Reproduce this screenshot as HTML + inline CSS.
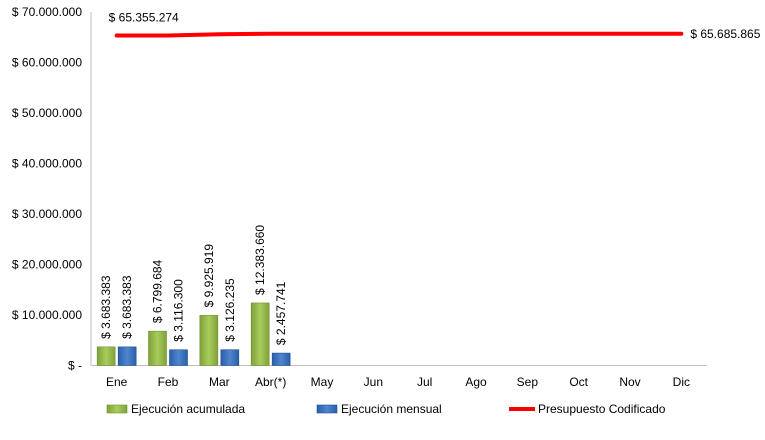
<!DOCTYPE html>
<html><head><meta charset="utf-8"><style>
body{margin:0;background:#fff;}
svg text{font-family:"Liberation Sans",sans-serif;font-size:12px;fill:#000;}
</style></head><body>
<svg width="765" height="435">
<defs>
<linearGradient id="gG" x1="0" x2="1"><stop offset="0" stop-color="#7fa23a"/><stop offset="0.5" stop-color="#a9cc5c"/><stop offset="1" stop-color="#7fa23a"/></linearGradient>
<linearGradient id="gB" x1="0" x2="1"><stop offset="0" stop-color="#2a5fa8"/><stop offset="0.5" stop-color="#4f86d0"/><stop offset="1" stop-color="#2a5fa8"/></linearGradient>
</defs>
<g id="axes"></g><g id="marks"></g><g id="legend"></g>
</svg>
<script>
const categories=["Ene","Feb","Mar","Abr(*)","May","Jun","Jul","Ago","Sep","Oct","Nov","Dic"];
const acumulada=[3683383,6799684,9925919,12383660];
const mensual=[3683383,3116300,3126235,2457741];
const presupuesto=[65355274,65355274,65600000,65685865,65685865,65685865,65685865,65685865,65685865,65685865,65685865,65685865];
const yTicks=[0,10000000,20000000,30000000,40000000,50000000,60000000,70000000];
const yTickLabels=["$ -","$ 10.000.000","$ 20.000.000","$ 30.000.000","$ 40.000.000","$ 50.000.000","$ 60.000.000","$ 70.000.000"];
const acuLabels=["$ 3.683.383","$ 6.799.684","$ 9.925.919","$ 12.383.660"];
const menLabels=["$ 3.683.383","$ 3.116.300","$ 3.126.235","$ 2.457.741"];
const firstLineLabel="$ 65.355.274", lastLineLabel="$ 65.685.865";

const NS="http://www.w3.org/2000/svg";
const x0=91,x1=707,yZero=365.5,yTop=12,yMax=70000000;
const band=(x1-x0)/categories.length;
const y=v=>yZero-(v/yMax)*(yZero-yTop);
const xc=i=>x0+band*(i+0.5);
function mk(t,a,p,txt){const e=document.createElementNS(NS,t);for(const k in a)e.setAttribute(k,a[k]);if(txt!==undefined)e.textContent=txt;p.appendChild(e);return e;}
const ax=document.getElementById('axes'),mg=document.getElementById('marks'),lg=document.getElementById('legend');
let e=mk('line',{x1:x0,y1:yTop,x2:x0,y2:yZero,stroke:'#bfbfbf'},ax);


e=mk('line',{x1:x0,y1:yZero,x2:x1,y2:yZero,stroke:'#bfbfbf'},ax);


yTicks.forEach((v,i)=>{
 const t=mk('text',{x:x0-9,y:y(v)+4,'text-anchor':'end'},ax,yTickLabels[i]);
 
 
});
categories.forEach((c,i)=>{
 const t=mk('text',{x:xc(i),y:386,'text-anchor':'middle'},ax,c);
 
 
});
const bw=18;
acumulada.forEach((v,i)=>{
 const bx=xc(i)-bw-1.5;
 const r=mk('rect',{x:bx,y:y(v),width:bw,height:yZero-y(v),fill:'url(#gG)',stroke:'#6f8f30','stroke-width':0.6},mg);
 
 
 const t=mk('text',{transform:`translate(${bx+bw/2+4},${y(v)-8}) rotate(-90)`},mg,acuLabels[i]);
 
 
});
mensual.forEach((v,i)=>{
 const bx=xc(i)+1.5;
 const r=mk('rect',{x:bx,y:y(v),width:bw,height:yZero-y(v),fill:'url(#gB)',stroke:'#1f4f8f','stroke-width':0.6},mg);
 
 
 const t=mk('text',{transform:`translate(${bx+bw/2+4},${y(v)-8}) rotate(-90)`},mg,menLabels[i]);
 
 
});
const pts=presupuesto.map((v,i)=>xc(i)+','+y(v)).join(' ');
e=mk('polyline',{points:pts,fill:'none',stroke:'#ff0000','stroke-width':4,'stroke-linecap':'round','stroke-linejoin':'round'},mg);


e=mk('text',{x:xc(0)-8,y:y(presupuesto[0])-14},mg,firstLineLabel);


const L=presupuesto.length-1;
e=mk('text',{x:xc(L)+9,y:y(presupuesto[L])+4},mg,lastLineLabel);


// legend
e=mk('rect',{x:107,y:405,width:20,height:8,fill:'url(#gG)',stroke:'#6f8f30','stroke-width':0.6},lg);


e=mk('text',{x:131,y:413},lg,'Ejecución acumulada');


e=mk('rect',{x:317,y:405,width:20,height:8,fill:'url(#gB)',stroke:'#1f4f8f','stroke-width':0.6},lg);


e=mk('text',{x:341,y:413},lg,'Ejecución mensual');


e=mk('line',{x1:509,y1:409,x2:535,y2:409,stroke:'#ff0000','stroke-width':4},lg);


e=mk('text',{x:538,y:413},lg,'Presupuesto Codificado');


</script>
</body></html>
